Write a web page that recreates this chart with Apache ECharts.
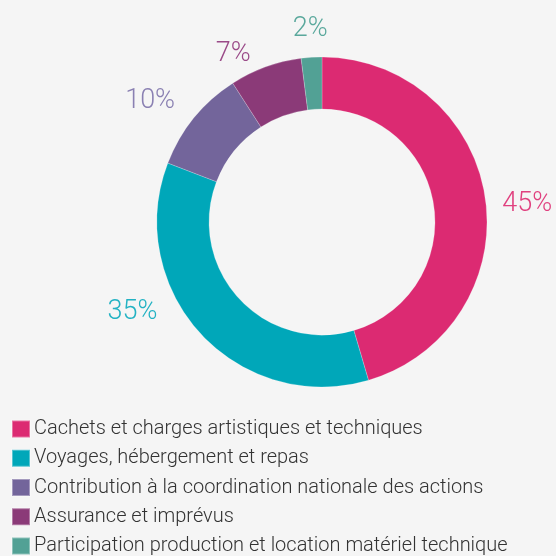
<!DOCTYPE html>
<html>
<head>
<meta charset="utf-8">
<script src="https://cdn.jsdelivr.net/npm/echarts@6/dist/echarts.min.js"></script>
<style>
  html, body { margin: 0; padding: 0; background: #f5f5f5; }
  #chart { width: 556px; height: 556px; }
</style>
</head>
<body>
<div id="chart"></div>
<script>
// postes de dépenses
const categories = [
  'Cachets et charges artistiques et techniques',
  'Voyages, hébergement et repas',
  'Contribution à la coordination nationale des actions',
  'Assurance et imprévus',
  'Participation production et location matériel technique'
];
const values = [45, 35, 10, 7, 2];
const colors = ['#dc2a72', '#00a7b9', '#73659b', '#8b3a78', '#52a195'];
const labelColors = ['#e0417f', '#22b2c3', '#8a80b2', '#9a4a88', '#5aa89c'];
// petits décalages des étiquettes pour suivre la mise en page d'origine
const labelOffsets = [[-2, 8], [-28, -31], [-3, -8], [-5, 0], [22, -14]];

const chart = echarts.init(document.getElementById('chart'));

const data = values.map((v, i) => ({
  name: categories[i],
  value: v,
  itemStyle: { color: colors[i] },
  label: { color: labelColors[i], offset: labelOffsets[i] }
}));

chart.setOption({
  backgroundColor: '#f5f5f5',
  animation: false,
  legend: {
    orient: 'vertical',
    left: 11,
    top: 419,
    height: 180,
    padding: 0,
    itemWidth: 18,
    itemHeight: 17,
    itemGap: 9.25,
    icon: 'rect',
    textStyle: {
      fontFamily: 'Roboto',
      fontWeight: 300,
      fontSize: 20,
      lineHeight: 20,
      color: '#333',
      padding: [0, 0, 0, -1]
    },
    data: categories
  },
  series: [{
    type: 'pie',
    center: [322, 222],
    radius: [113, 165],
    startAngle: 90,
    clockwise: true,
    avoidLabelOverlap: false,
    itemStyle: { borderColor: 'rgba(255,255,255,0.35)', borderWidth: 0.6 },
    label: {
      show: true,
      position: 'outside',
      formatter: '{c}%',
      fontFamily: 'Roboto',
      fontWeight: 300,
      fontSize: 27
    },
    labelLine: { show: false, length: 14, length2: 0 },
    emphasis: { disabled: true },
    data: data
  }]
});
</script>
</body>
</html>
